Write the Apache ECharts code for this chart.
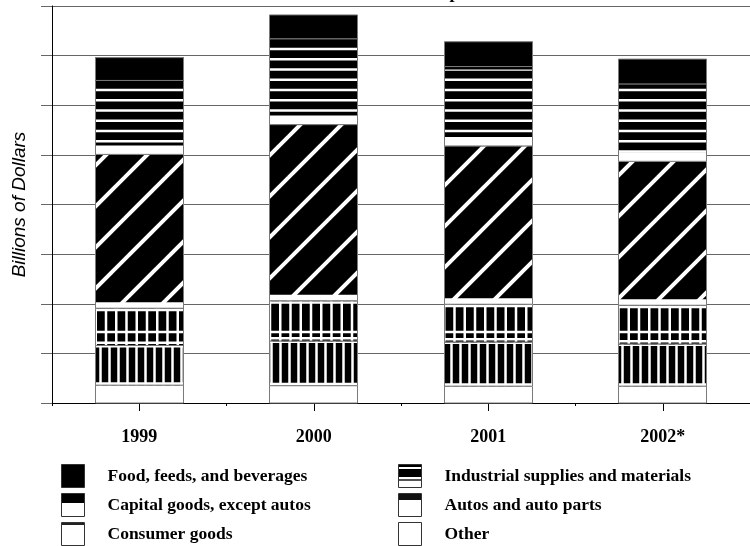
<!DOCTYPE html>
<html>
<head>
<meta charset="utf-8">
<script src="https://cdn.jsdelivr.net/npm/echarts@6/dist/echarts.min.js"></script>
<style>html,body{margin:0;padding:0;background:#fff}#c{width:750px;height:546px}</style>
</head>
<body>
<div id="c"></div>
<script>
// ---- data (billions of dollars) ----
var years = ['1999', '2000', '2001', '2002*'];
var food = [46, 48, 50, 50];
var industrial = [149, 173, 160, 156];
var capital = [310, 355, 319, 290];
var autos = [75, 81, 76, 78];
var consumer = [80, 90, 89, 85];
var other = [36, 35, 34, 34];
var yTicks = [0, 100, 200, 300, 400, 500, 600, 700, 800];

var names = {
  food: 'Food, feeds, and beverages',
  industrial: 'Industrial supplies and materials',
  capital: 'Capital goods, except autos',
  autos: 'Autos and auto parts',
  consumer: 'Consumer goods',
  other: 'Other'
};

// ---- patterns ----
function tile(w, h, draw) {
  var c = document.createElement('canvas');
  c.width = w; c.height = h;
  var g = c.getContext('2d');
  g.fillStyle = '#000'; g.fillRect(0, 0, w, h);
  g.fillStyle = '#fff'; g.strokeStyle = '#fff';
  draw(g);
  return { image: c, repeat: 'repeat' };
}
var patIndustrial = tile(4, 41, function (g) {
  [8, 18.25, 28.5, 38.75].forEach(function (c) { g.fillRect(0, c - 1.25, 4, 2.5); });
});
var patCapital = tile(41, 41, function (g) {
  g.lineWidth = 4;
  for (var k = -1; k <= 2; k++) {
    var c = 15 + 41 * k;
    g.beginPath(); g.moveTo(-10, c + 10); g.lineTo(c + 10, -10); g.stroke();
  }
});
var patAutos = tile(41, 41, function (g) {
  [3.5, 13.75, 24, 34.25].forEach(function (x) { g.fillRect(x - 1.25, 0, 2.5, 41); });
  g.fillRect(0, 4 - 1.25, 41, 2.5);
});
var patConsumer = tile(27, 4, function (g) {
  [1.5, 10.5, 19.5].forEach(function (x) { g.fillRect(x - 1.25, 0, 2.5, 4); });
});

function lg(stops) {
  var cs = [];
  for (var i = 0; i < stops.length; i += 2) cs.push({ offset: stops[i], color: stops[i + 1] });
  return { type: 'linear', x: 0, y: 0, x2: 0, y2: 1, colorStops: cs };
}

var STYLE = {
  food: { fill: '#000', bands: [], legend: '#000' },
  industrial: { fill: patIndustrial,
    bands: [{ from: 'top', off: 0, h: 3, color: '#000' }, { from: 'bottom', off: 0, h: 9, color: '#fff' }],
    legend: lg([0, '#000', 0.14, '#000', 0.14, '#fff', 0.22, '#fff', 0.22, '#000', 0.55, '#000', 0.55, '#fff', 0.64, '#fff', 0.64, '#555', 0.69, '#555', 0.69, '#fff', 1, '#fff']) },
  capital: { fill: patCapital, bands: [{ from: 'bottom', off: 0, h: 6, color: '#fff' }],
    legend: lg([0, '#000', 0.42, '#000', 0.42, '#fff', 1, '#fff']) },
  autos: { fill: patAutos,
    bands: [{ from: 'top', off: 0.5, h: 2.5, color: '#fff' }, { from: 'bottom', off: 1.5, h: 2.5, color: '#fff' }],
    legend: lg([0, '#fff', 0.06, '#fff', 0.06, '#111', 0.28, '#111', 0.28, '#fff', 1, '#fff']) },
  consumer: { fill: patConsumer,
    bands: [{ from: 'top', off: 0.5, h: 1.5, color: '#fff' }, { from: 'bottom', off: 0, h: 3, color: '#fff' }],
    legend: lg([0, '#fff', 0.05, '#fff', 0.05, '#222', 0.13, '#222', 0.13, '#fff', 1, '#fff']) },
  other: { fill: '#fff', bands: [], legend: '#fff' }
};

var BAR_W = 89;
var BORDER = '#7a7a7a';

function seg(kind) {
  return function (params, api) {
    var ci = api.value(0), lo = api.value(1), hi = api.value(2);
    var a = api.coord([ci, lo]), b = api.coord([ci, hi]);
    var x = Math.round(a[0] - BAR_W / 2), y = b[1], h = a[1] - b[1];
    var st = STYLE[kind];
    var ch = [{ type: 'rect', shape: { x: x, y: y, width: BAR_W, height: h }, style: { fill: st.fill } }];
    st.bands.forEach(function (bd) {
      var by = bd.from === 'top' ? y + bd.off : y + h - bd.off - bd.h;
      ch.push({ type: 'rect', shape: { x: x, y: by, width: BAR_W, height: bd.h }, style: { fill: bd.color } });
    });
    ch.push({ type: 'rect', shape: { x: x + 0.5, y: y, width: BAR_W - 1, height: h },
      style: { fill: 'none', stroke: BORDER, lineWidth: 1 } });
    return { type: 'group', children: ch };
  };
}

var order = [['other', other], ['consumer', consumer], ['autos', autos], ['capital', capital], ['industrial', industrial], ['food', food]];
var base = years.map(function () { return 0; });
var series = order.map(function (o) {
  var kind = o[0];
  var d = o[1].map(function (v, i) { var r = [i, base[i], base[i] + v]; base[i] += v; return r; });
  return { type: 'custom', name: names[kind], renderItem: seg(kind), data: d,
    encode: { x: 0, y: [1, 2] }, itemStyle: { color: '#000' } };
});

var legText = { fontFamily: 'Liberation Serif', fontWeight: 'bold', fontSize: 17.5, color: '#000', padding: [4, 0, 0, 18] };
// one legend box per entry, laid out as two columns of three rows
var legendSlots = [['food', 61, 464], ['capital', 61, 493], ['consumer', 61, 522],
                   ['industrial', 398, 464], ['autos', 398, 493], ['other', 398, 522]];
var legends = legendSlots.map(function (s) {
  var kind = s[0];
  return { orient: 'vertical', left: s[1], top: s[2], padding: 0, itemWidth: 23, itemHeight: 23,
    selectedMode: false, textStyle: legText,
    data: [{ name: names[kind], icon: 'rect', itemStyle: { color: STYLE[kind].legend, borderColor: '#333', borderWidth: 1 } }] };
});

var SERIF = 'Liberation Serif';
var option = {
  backgroundColor: '#fff',
  animation: false,
  title: { text: 'U.S. Exports', left: 392, top: -16, padding: 0,
    textStyle: { fontFamily: SERIF, fontWeight: 'bold', fontSize: 18, color: '#000' } },
  grid: { left: 52, top: 6, width: 709, height: 397, containLabel: false },
  legend: legends,
  xAxis: [
    { type: 'category', data: years, position: 'bottom',
      axisLine: { show: true, lineStyle: { color: '#000', width: 1 } },
      axisTick: { show: true, alignWithLabel: true, length: 8, lineStyle: { color: '#000' } },
      axisLabel: { margin: 25, fontFamily: SERIF, fontWeight: 'bold', fontSize: 18, color: '#000' },
      splitLine: { show: false } },
    { type: 'category', data: years, position: 'bottom', gridIndex: 0,
      axisLine: { show: false }, axisLabel: { show: false },
      axisTick: { show: true, alignWithLabel: false, length: 3, lineStyle: { color: '#000' } },
      splitLine: { show: false } }
  ],
  yAxis: {
    type: 'value', min: yTicks[0], max: yTicks[yTicks.length - 1], interval: 100,
    name: 'Billions of Dollars', nameLocation: 'middle', nameGap: 23, nameRotate: 90,
    nameTextStyle: { fontFamily: 'Liberation Sans', fontStyle: 'italic', fontSize: 19, color: '#000' },
    axisLine: { show: true, lineStyle: { color: '#000', width: 1 } },
    axisTick: { show: true, length: 11, lineStyle: { color: '#666' } },
    axisLabel: { show: false },
    splitLine: { show: true, lineStyle: { color: '#666', width: 1 } }
  },
  series: series
};

var chart = echarts.init(document.getElementById('c'), null, { renderer: 'canvas' });
chart.setOption(option);
</script>
</body>
</html>
